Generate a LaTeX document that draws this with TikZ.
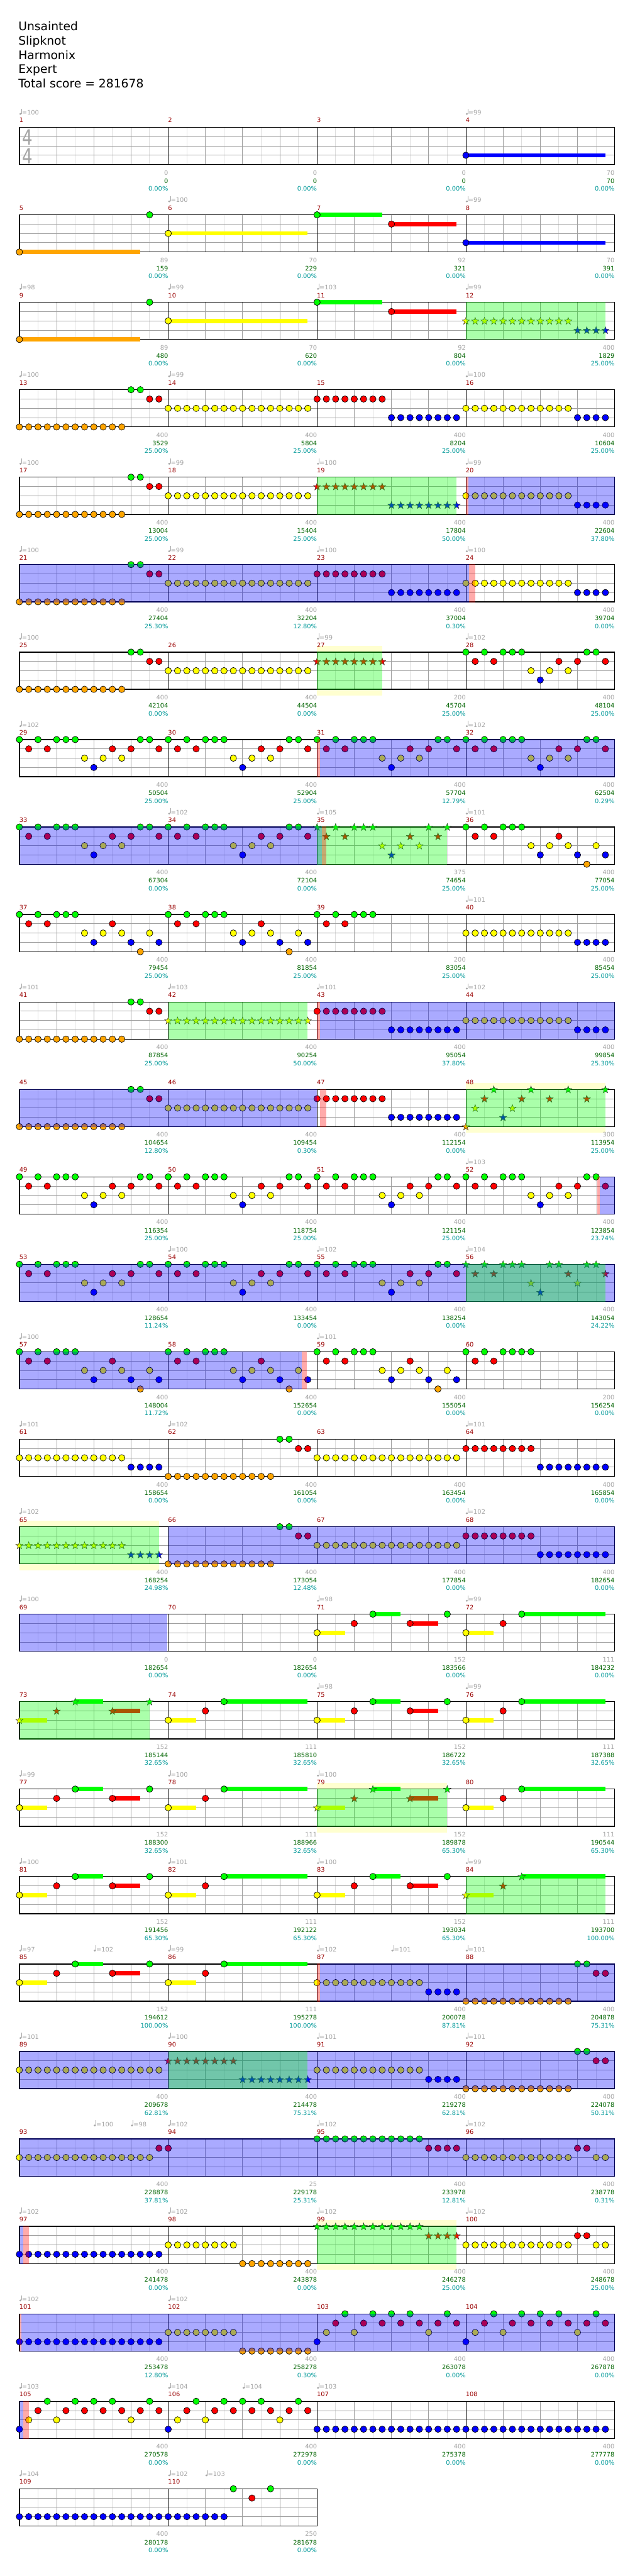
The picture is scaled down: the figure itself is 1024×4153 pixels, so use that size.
\documentclass[tikz,border=0pt]{standalone}
\usepackage{fontspec}
\setmainfont{DejaVu Sans}
\usepackage{graphicx}
\definecolor{lane0}{RGB}{0,255,0}
\definecolor{lane1}{RGB}{255,0,0}
\definecolor{lane2}{RGB}{255,255,0}
\definecolor{lane3}{RGB}{0,0,255}
\definecolor{lane4}{RGB}{255,165,0}
\definecolor{ovB}{RGB}{0,0,255}
\definecolor{ovG}{RGB}{0,255,0}
\definecolor{ovR}{RGB}{255,0,0}
\definecolor{paley}{RGB}{255,255,208}
\definecolor{mred}{RGB}{153,0,0}
\definecolor{tgrey}{RGB}{165,165,165}
\definecolor{cgreen}{RGB}{0,100,0}
\definecolor{pteal}{RGB}{0,153,153}
\definecolor{lg}{RGB}{222,222,222}
\definecolor{mg}{RGB}{160,160,160}
\definecolor{tsg}{RGB}{165,165,165}
\tikzset{
  smallfont/.style={font=\fontsize{10}{12}\selectfont},
  mnum/.style={smallfont,anchor=base west,inner sep=0pt,text=mred},
  sgr/.style={smallfont,anchor=base east,inner sep=0pt,text=tgrey},
  scg/.style={smallfont,anchor=base east,inner sep=0pt,text=cgreen},
  spt/.style={smallfont,anchor=base east,inner sep=0pt,text=pteal},
  tempo/.style={smallfont,anchor=base west,inner sep=0pt,text=tgrey},
  tsig/.style={inner sep=0pt,text=tsg},
  titletext/.style={anchor=base west,inner sep=0pt,font=\fontsize{19}{23}\selectfont},
  lgrid/.style={draw=lg,line width=1pt},
  mgrid/.style={draw=mg,line width=1pt},
  mbar/.style={draw=black,line width=1pt},
  sborder/.style={draw=black,line width=1.3pt},
}
\def\off{0}
\newcount\mcnt
\newcount\tcnt
\newcommand\SetRow[1]{\pgfmathsetmacro\RT{205.3+141*#1}}
\newcommand\AtOff[2]{\def\off{#1}#2\def\off{0}}
\newcommand\Staff[1]{%
  \pgfmathsetmacro\xe{31.3+240*#1}%
  \fill[white] (31.3,\RT) rectangle (\xe,\RT+60);
  \pgfmathtruncatemacro\nnl{#1*8-1}%
  \foreach \i in {1,...,\nnl} {\draw[lgrid] (31.3+30*\i,\RT)--(31.3+30*\i,\RT+60);}
  \pgfmathtruncatemacro\nnb{#1*4-1}%
  \foreach \i in {1,...,\nnb} {\draw[mgrid] (31.3+60*\i,\RT)--(31.3+60*\i,\RT+60);}
  \foreach \k in {1,2,3} {\draw[mgrid] (31.3,\RT+15*\k)--(\xe,\RT+15*\k);}
  \pgfmathtruncatemacro\nnm{#1-1}%
  \foreach \i in {1,...,\nnm} {\draw[mbar] (31.3+240*\i,\RT)--(31.3+240*\i,\RT+60);}
  \draw[sborder] (31.3,\RT) rectangle (\xe,\RT+60);
}
\newcommand\Nt[2]{\foreach \p in {#2}{\filldraw[fill=lane#1,draw=black,line width=0.7pt] (31.3+15*\off+15*\p,\RT+15*#1) circle[radius=5.2];}}
\newcommand\St[2]{\foreach \p in {#2}{\filldraw[fill=lane#1,draw=black!80,line width=0.5pt,shift={(31.3+15*\off+15*\p,\RT+15*#1+0.5)}] (0,-6.2)--(1.47,-2.02)--(5.9,-1.92)--(2.38,0.77)--(3.64,5.02)--(0,2.5)--(-3.64,5.02)--(-2.38,0.77)--(-5.9,-1.92)--(-1.47,-2.02)--cycle;}}
\newcommand\Sus[3]{\fill[lane#1] (31.3+15*\off+15*#2,\RT+15*#1-3.4) rectangle (31.3+15*\off+15*#2+15*#3,\RT+15*#1+3.4);}
\newcommand\Ov[3]{\fill[#1,fill opacity=0.333] (31.3+15*#2,\RT-0.65) rectangle (31.3+15*#3,\RT+60.65);}
\newcommand\Pale[2]{\fill[paley] (31.3+15*#1,\RT-10) rectangle (31.3+15*#2,\RT+70);}
\newcommand\Tp[2]{\global\advance\tcnt by 1
  \pgfmathsetmacro\xx{31.3+15*#1}%
  \fill[tgrey] (\xx+1.6,\RT-21.6) ellipse[x radius=1.9,y radius=1.5];
  \draw[tgrey,line width=0.6pt] (\xx+3.3,\RT-22)--(\xx+3.3,\RT-30);
  \node[tempo] (tp\the\tcnt) at (\xx+3.8,\RT-20) {=#2};}
\newcommand\Sc[3]{%
  \pgfmathtruncatemacro\rowI{div(\the\mcnt,4)}%
  \pgfmathtruncatemacro\mIdx{mod(\the\mcnt,4)}%
  \pgfmathsetmacro\ty{205.3+141*\rowI}%
  \pgfmathsetmacro\xs{31.3+240*\mIdx}%
  \global\advance\mcnt by 1
  \node[mnum] (mn\the\mcnt) at (\xs-0.3,\ty-7.6) {\the\mcnt};
  \node[sgr] (sa\the\mcnt) at (\xs+240,\ty+76.7) {#1};
  \node[scg] (sb\the\mcnt) at (\xs+240,\ty+90) {#2};
  \node[spt] (sc\the\mcnt) at (\xs+240,\ty+102.7) {#3\%};}
\newcommand\PatP[1]{#1{0}{0,2,4,5,6,13,14}#1{1}{1,3,10,12,15}#1{2}{7,9,11}#1{3}{8}}
\newcommand\PatQ[1]{#1{0}{0,2,4,5,6}#1{1}{1,3,10}#1{2}{7,9,11,14}#1{3}{8,12,15}#1{4}{13}}
\newcommand\PatM[1]{#1{3}{0}#1{2}{1,4,12}#1{1}{2,5,7,9,11,13,15}#1{0}{3,6,8,10,14}}
\newcommand\SA[1]{\Sus{2}{0}{3}\Sus{0}{6}{3}\Sus{1}{10}{3}#1{2}{0}#1{1}{4,10}#1{0}{6,14}}
\newcommand\SB[1]{\Sus{2}{16}{3}\Sus{0}{22}{9}#1{2}{16}#1{1}{20}#1{0}{22}}
\newcommand\HalfA{\Nt{4}{0,...,11}\Nt{0}{12,13}\Nt{1}{14,15}}
\begin{document}
\begin{tikzpicture}[x=1pt,y=-1pt]
\useasboundingbox (0,0) rectangle (1024,4153);
\fill[white] (0,0) rectangle (1024,4153);
% header
\node[titletext] (h1) at (29.5,49.5) {Unsainted};
\node[titletext] (h2) at (29.5,72.5) {Slipknot};
\node[titletext] (h3) at (29.5,95.5) {Harmonix};
\node[titletext] (h4) at (29.5,118.5) {Expert};
\node[titletext] (h5) at (29.5,141.5) {Total score = 281678};
% row 0
\SetRow{0}\Staff{4}
\Sus{3}{48}{15}\Nt{3}{48}
\node[tsig] (ts1) at (44,\RT+16) {\fontsize{34}{34}\selectfont\scalebox{0.78}[1]{4}};
\node[tsig] (ts2) at (44,\RT+46) {\fontsize{34}{34}\selectfont\scalebox{0.78}[1]{4}};
\Tp{0}{100}\Tp{48}{99}
% row 1
\SetRow{1}\Staff{4}
\Sus{4}{0}{13}\Sus{2}{16}{15}\Sus{0}{32}{7}\Sus{1}{40}{7}\Sus{3}{48}{15}
\Nt{4}{0}\Nt{0}{14}\Nt{2}{16}\Nt{0}{32}\Nt{1}{40}\Nt{3}{48}
\Tp{16}{100}\Tp{48}{99}
% row 2
\SetRow{2}\Staff{4}
\Sus{4}{0}{13}\Sus{2}{16}{15}\Sus{0}{32}{7}\Sus{1}{40}{7}
\Nt{4}{0}\Nt{0}{14}\Nt{2}{16}\Nt{0}{32}\Nt{1}{40}
\St{2}{48,...,59}\St{3}{60,...,63}
\Ov{ovG}{48}{63}
\Tp{0}{98}\Tp{16}{99}\Tp{32}{103}\Tp{48}{99}
% row 3
\SetRow{3}\Staff{4}
\HalfA\Nt{2}{16,...,31}\Nt{1}{32,...,39}\Nt{3}{40,...,47}\Nt{2}{48,...,59}\Nt{3}{60,...,63}
\Tp{0}{100}\Tp{16}{99}\Tp{48}{100}
% row 4
\SetRow{4}\Staff{4}
\HalfA\Nt{2}{16,...,31}\St{1}{32,...,39}\St{3}{40,...,47}\Nt{2}{48,...,59}\Nt{3}{60,...,63}
\Ov{ovG}{32}{47}\Ov{ovR}{48}{48.3}\Ov{ovB}{48.3}{64}
\Tp{0}{100}\Tp{16}{99}\Tp{32}{100}\Tp{48}{99}
% row 5
\SetRow{5}\Staff{4}
\HalfA\Nt{2}{16,...,31}\Nt{1}{32,...,39}\Nt{3}{40,...,47}\Nt{2}{48,...,59}\Nt{3}{60,...,63}
\Ov{ovB}{0}{48.35}\Ov{ovR}{48.35}{49}
\Tp{0}{100}\Tp{16}{99}\Tp{32}{100}\Tp{48}{100}
% row 6
\SetRow{6}\Pale{32}{39}\Staff{4}
\HalfA\Nt{2}{16,...,31}\St{1}{32,...,39}\AtOff{48}{\PatP\Nt}
\Ov{ovG}{32}{39}
\Tp{0}{100}\Tp{32}{99}\Tp{48}{102}
% row 7
\SetRow{7}\Staff{4}
\AtOff{0}{\PatP\Nt}\AtOff{16}{\PatP\Nt}\AtOff{32}{\PatP\Nt}\AtOff{48}{\PatP\Nt}
\Ov{ovR}{32}{32.3}\Ov{ovB}{32.3}{64}
\Tp{0}{102}\Tp{48}{102}
% row 8
\SetRow{8}\Staff{4}
\AtOff{0}{\PatP\Nt}\AtOff{16}{\PatP\Nt}
\AtOff{32}{\St{0}{0,2,4,5,6,12,14}\St{1}{1,3,10,13}\St{2}{7,9,11}\St{3}{8}}
\AtOff{48}{\PatQ\Nt}
\Ov{ovB}{0}{32.5}\Ov{ovG}{32}{46}\Ov{ovR}{32.5}{33}
\Tp{16}{102}\Tp{32}{105}\Tp{48}{101}
% row 9
\SetRow{9}\Staff{4}
\AtOff{0}{\PatQ\Nt}\AtOff{16}{\PatQ\Nt}
\Nt{0}{32,34,36,37,38}\Nt{1}{33,35}\Nt{2}{48,...,59}\Nt{3}{60,...,63}
\Tp{48}{101}
% row 10
\SetRow{10}\Staff{4}
\HalfA\St{2}{16,...,31}\Nt{1}{32,...,39}\Nt{3}{40,...,47}\Nt{2}{48,...,59}\Nt{3}{60,...,63}
\Ov{ovG}{16}{31}\Ov{ovR}{32}{32.3}\Ov{ovB}{32.3}{64}
\Tp{0}{101}\Tp{16}{103}\Tp{32}{101}\Tp{48}{102}
% row 11
\SetRow{11}\Pale{48}{63}\Staff{4}
\HalfA\Nt{2}{16,...,31}\Nt{1}{32,...,39}\Nt{3}{40,...,47}
\St{4}{48}\St{2}{49,53}\St{1}{50,54,57,61}\St{0}{51,55,59,63}\St{3}{52}
\Ov{ovB}{0}{32}\Ov{ovR}{32.3}{33}\Ov{ovG}{48}{63}
% row 12
\SetRow{12}\Staff{4}
\AtOff{0}{\PatP\Nt}\AtOff{16}{\PatP\Nt}\AtOff{32}{\PatP\Nt}\AtOff{48}{\PatP\Nt}
\Ov{ovR}{62.1}{62.4}\Ov{ovB}{62.4}{64}
\Tp{48}{103}
% row 13
\SetRow{13}\Staff{4}
\AtOff{0}{\PatP\Nt}\AtOff{16}{\PatP\Nt}\AtOff{32}{\PatP\Nt}
\St{0}{48,50,52,53,54,57,58,61,62}\St{1}{49,51,59,63}\St{2}{55,60}\St{3}{56}
\Ov{ovB}{0}{64}\Ov{ovG}{48}{63}
\Tp{16}{100}\Tp{32}{102}\Tp{48}{104}
% row 14
\SetRow{14}\Staff{4}
\AtOff{0}{\PatQ\Nt}\AtOff{16}{\PatQ\Nt}\AtOff{32}{\PatQ\Nt}
\Nt{0}{48,50,52,53,54,55}\Nt{1}{49,51}
\Ov{ovB}{0}{30.35}\Ov{ovR}{30.35}{30.9}
\Tp{0}{100}\Tp{32}{101}
% row 15
\SetRow{15}\Staff{4}
\Nt{2}{0,...,11}\Nt{3}{12,...,15}\Nt{4}{16,...,27}\Nt{0}{28,29}\Nt{1}{30,31}\Nt{2}{32,...,47}\Nt{1}{48,...,55}\Nt{3}{56,...,63}
\Tp{0}{101}\Tp{16}{102}\Tp{48}{101}
% row 16
\SetRow{16}\Pale{0}{15}\Staff{4}
\St{2}{0,...,11}\St{3}{12,...,15}\Nt{4}{16,...,27}\Nt{0}{28,29}\Nt{1}{30,31}\Nt{2}{32,...,47}\Nt{1}{48,...,55}\Nt{3}{56,...,63}
\Ov{ovG}{0}{15}\Ov{ovB}{16}{64}
\Tp{0}{102}\Tp{48}{102}
% row 17
\SetRow{17}\Staff{4}
\AtOff{32}{\SA\Nt\SB\Nt}
\Ov{ovB}{0}{15.9}
\Tp{0}{100}\Tp{32}{98}\Tp{48}{99}
% row 18
\SetRow{18}\Staff{4}
\SA\St\SB\Nt\AtOff{32}{\SA\Nt\SB\Nt}
\Ov{ovG}{0}{14}
\Tp{32}{98}\Tp{48}{99}
% row 19
\SetRow{19}\Pale{32}{46}\Staff{4}
\SA\Nt\SB\Nt\AtOff{32}{\SA\St\SB\Nt}
\Ov{ovG}{32}{46}
\Tp{0}{99}\Tp{16}{100}\Tp{32}{100}
% row 20
\SetRow{20}\Staff{4}
\SA\Nt\SB\Nt\AtOff{32}{\SA\Nt\SB\St}
\Ov{ovG}{48}{63}
\Tp{0}{100}\Tp{16}{101}\Tp{32}{100}\Tp{48}{99}
% row 21
\SetRow{21}\Staff{4}
\SA\Nt\SB\Nt
\Nt{2}{32,...,43}\Nt{3}{44,...,47}\Nt{4}{48,...,59}\Nt{0}{60,61}\Nt{1}{62,63}
\Ov{ovR}{32}{32.3}\Ov{ovB}{32.3}{64}
\Tp{0}{97}\Tp{8}{102}\Tp{16}{99}\Tp{32}{102}\Tp{40}{101}\Tp{48}{101}
% row 22
\SetRow{22}\Staff{4}
\Nt{2}{0,...,15}\St{1}{16,...,23}\St{3}{24,...,31}\Nt{2}{32,...,43}\Nt{3}{44,...,47}\Nt{4}{48,...,59}\Nt{0}{60,61}\Nt{1}{62,63}
\Ov{ovB}{0}{64}\Ov{ovG}{16}{31}
\Tp{0}{101}\Tp{16}{100}\Tp{32}{101}\Tp{48}{101}
% row 23
\SetRow{23}\Staff{4}
\Nt{2}{0,...,14}\Nt{1}{15,16}\Nt{0}{32,...,43}\Nt{1}{44,...,47}\Nt{2}{48,...,59}\Nt{1}{60,61}\Nt{2}{62,63}
\Ov{ovB}{0}{64}
\Tp{8}{100}\Tp{12}{98}\Tp{16}{102}\Tp{32}{102}\Tp{48}{102}
% row 24
\SetRow{24}\Pale{32}{47}\Staff{4}
\Nt{3}{0,...,15}\Nt{2}{16,...,23}\Nt{4}{24,...,31}\St{0}{32,...,43}\St{1}{44,...,47}\Nt{2}{48,...,59}\Nt{1}{60,61}\Nt{2}{62,63}
\Ov{ovB}{0}{0.4}\Ov{ovR}{0.4}{1}\Ov{ovG}{32}{47}
\Tp{0}{102}\Tp{16}{102}\Tp{32}{102}\Tp{48}{102}
% row 25
\SetRow{25}\Staff{4}
\Nt{3}{0,...,15}\Nt{2}{16,...,23}\Nt{4}{24,...,31}\AtOff{32}{\PatM\Nt}\AtOff{48}{\PatM\Nt}
\Ov{ovR}{0}{0.2}\Ov{ovB}{0.2}{64}
\Tp{0}{102}\Tp{16}{102}
% row 26
\SetRow{26}\Staff{4}
\AtOff{0}{\PatM\Nt}\AtOff{16}{\PatM\Nt}\Nt{3}{32,...,63}
\Ov{ovB}{0}{0.4}\Ov{ovR}{0.4}{1}
\Tp{0}{103}\Tp{16}{104}\Tp{24}{104}\Tp{32}{103}
% row 27
\SetRow{27}\Staff{2}
\Nt{3}{0,...,22}\Nt{0}{23,27}\Nt{1}{25}
\Tp{0}{104}\Tp{16}{102}\Tp{20}{103}
% measure numbers and scores
\Sc{0}{0}{0.00}\Sc{0}{0}{0.00}\Sc{0}{0}{0.00}\Sc{70}{70}{0.00}
\Sc{89}{159}{0.00}\Sc{70}{229}{0.00}\Sc{92}{321}{0.00}\Sc{70}{391}{0.00}
\Sc{89}{480}{0.00}\Sc{70}{620}{0.00}\Sc{92}{804}{0.00}\Sc{400}{1829}{25.00}
\Sc{400}{3529}{25.00}\Sc{400}{5804}{25.00}\Sc{400}{8204}{25.00}\Sc{400}{10604}{25.00}
\Sc{400}{13004}{25.00}\Sc{400}{15404}{25.00}\Sc{400}{17804}{50.00}\Sc{400}{22604}{37.80}
\Sc{400}{27404}{25.30}\Sc{400}{32204}{12.80}\Sc{400}{37004}{0.30}\Sc{400}{39704}{0.00}
\Sc{400}{42104}{0.00}\Sc{400}{44504}{0.00}\Sc{200}{45704}{25.00}\Sc{400}{48104}{25.00}
\Sc{400}{50504}{25.00}\Sc{400}{52904}{25.00}\Sc{400}{57704}{12.79}\Sc{400}{62504}{0.29}
\Sc{400}{67304}{0.00}\Sc{400}{72104}{0.00}\Sc{375}{74654}{25.00}\Sc{400}{77054}{25.00}
\Sc{400}{79454}{25.00}\Sc{400}{81854}{25.00}\Sc{200}{83054}{25.00}\Sc{400}{85454}{25.00}
\Sc{400}{87854}{25.00}\Sc{400}{90254}{50.00}\Sc{400}{95054}{37.80}\Sc{400}{99854}{25.30}
\Sc{400}{104654}{12.80}\Sc{400}{109454}{0.30}\Sc{400}{112154}{0.00}\Sc{300}{113954}{25.00}
\Sc{400}{116354}{25.00}\Sc{400}{118754}{25.00}\Sc{400}{121154}{25.00}\Sc{400}{123854}{23.74}
\Sc{400}{128654}{11.24}\Sc{400}{133454}{0.00}\Sc{400}{138254}{0.00}\Sc{400}{143054}{24.22}
\Sc{400}{148004}{11.72}\Sc{400}{152654}{0.00}\Sc{400}{155054}{0.00}\Sc{200}{156254}{0.00}
\Sc{400}{158654}{0.00}\Sc{400}{161054}{0.00}\Sc{400}{163454}{0.00}\Sc{400}{165854}{0.00}
\Sc{400}{168254}{24.98}\Sc{400}{173054}{12.48}\Sc{400}{177854}{0.00}\Sc{400}{182654}{0.00}
\Sc{0}{182654}{0.00}\Sc{0}{182654}{0.00}\Sc{152}{183566}{0.00}\Sc{111}{184232}{0.00}
\Sc{152}{185144}{32.65}\Sc{111}{185810}{32.65}\Sc{152}{186722}{32.65}\Sc{111}{187388}{32.65}
\Sc{152}{188300}{32.65}\Sc{111}{188966}{32.65}\Sc{152}{189878}{65.30}\Sc{111}{190544}{65.30}
\Sc{152}{191456}{65.30}\Sc{111}{192122}{65.30}\Sc{152}{193034}{65.30}\Sc{111}{193700}{100.00}
\Sc{152}{194612}{100.00}\Sc{111}{195278}{100.00}\Sc{400}{200078}{87.81}\Sc{400}{204878}{75.31}
\Sc{400}{209678}{62.81}\Sc{400}{214478}{75.31}\Sc{400}{219278}{62.81}\Sc{400}{224078}{50.31}
\Sc{400}{228878}{37.81}\Sc{25}{229178}{25.31}\Sc{400}{233978}{12.81}\Sc{400}{238778}{0.31}
\Sc{400}{241478}{0.00}\Sc{400}{243878}{0.00}\Sc{400}{246278}{25.00}\Sc{400}{248678}{25.00}
\Sc{400}{253478}{12.80}\Sc{400}{258278}{0.30}\Sc{400}{263078}{0.00}\Sc{400}{267878}{0.00}
\Sc{400}{270578}{0.00}\Sc{400}{272978}{0.00}\Sc{400}{275378}{0.00}\Sc{400}{277778}{0.00}
\Sc{400}{280178}{0.00}\Sc{250}{281678}{0.00}
\end{tikzpicture}
\end{document}
